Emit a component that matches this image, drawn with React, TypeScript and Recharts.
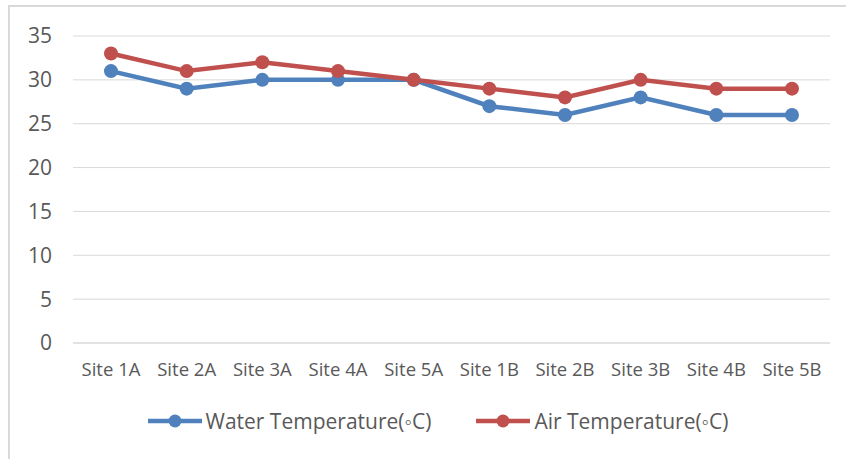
import React from "react";
import { LineChart, Line, XAxis, YAxis, CartesianGrid, Legend } from "recharts";

const sites = ["Site 1A", "Site 2A", "Site 3A", "Site 4A", "Site 5A", "Site 1B", "Site 2B", "Site 3B", "Site 4B", "Site 5B"];
const waterTemp = [31, 29, 30, 30, 30, 27, 26, 28, 26, 26];
const airTemp = [33, 31, 32, 31, 30, 29, 28, 30, 29, 29];
const yTicks = [0, 5, 10, 15, 20, 25, 30, 35];

const WATER = "Water Temperature(\u25E6C)";
const AIR = "Air Temperature(\u25E6C)";

const data = sites.map((s, i) => ({ site: s, water: waterTemp[i], air: airTemp[i] }));

const BLUE = "#4F81BD";
const RED = "#C0504D";
const TEXT = "#595959";
const FONT = "'Open Sans', 'Liberation Sans', sans-serif";

const LegendContent = () => {
  const items = [
    { label: WATER, color: BLUE },
    { label: AIR, color: RED },
  ];
  return (
    <div style={{ display: "flex", justifyContent: "center", alignItems: "center", gap: 44, paddingLeft: 29, fontFamily: FONT }}>
      {items.map((it) => (
        <div key={it.label} style={{ display: "flex", alignItems: "center" }}>
          <svg width={56} height={16} style={{ marginRight: 3 }}>
            <line x1={1} y1={8} x2={55} y2={8} stroke={it.color} strokeWidth={4.5} />
            <circle cx={28} cy={8} r={6.5} fill={it.color} />
          </svg>
          <span style={{ fontSize: 21, color: TEXT }}>{it.label}</span>
        </div>
      ))}
    </div>
  );
};

export default function App() {
  return (
    <div style={{ position: "absolute", left: 0, top: 0, width: 846, height: 459, overflow: "hidden", background: "#fff" }}>
      <div
        style={{
          position: "absolute",
          left: 8,
          top: 5,
          width: 900,
          height: 500,
          border: "2px solid #d9d9d9",
          boxSizing: "border-box",
        }}
      />
      <div style={{ position: "absolute", left: 0, top: 0 }}>
        <LineChart width={846} height={459} data={data} margin={{ top: 36, right: 16, bottom: 0, left: 0 }}>
          <CartesianGrid vertical={false} stroke="#d9d9d9" strokeWidth={1} />
          <XAxis
            dataKey="site"
            axisLine={{ stroke: "#d9d9d9" }}
            tickLine={false}
            tickMargin={14}
            height={88}
            interval={0}
            padding={{ left: 38, right: 38 }}
            tick={{ fill: TEXT, fontSize: 18.5, fontFamily: FONT }}
          />
          <YAxis
            domain={[0, 35]}
            ticks={yTicks}
            axisLine={false}
            tickLine={false}
            tickMargin={15}
            width={73}
            tick={{ fill: TEXT, fontSize: 21, fontFamily: FONT }}
          />
          <Legend
            verticalAlign="bottom"
            content={<LegendContent />}
            wrapperStyle={{ position: "absolute", top: 407, left: 0, width: 846 }}
          />
          <Line
            type="linear"
            dataKey="water"
            name={WATER}
            stroke={BLUE}
            strokeWidth={4.5}
            dot={{ r: 7, fill: BLUE, stroke: BLUE, strokeWidth: 0 }}
            isAnimationActive={false}
          />
          <Line
            type="linear"
            dataKey="air"
            name={AIR}
            stroke={RED}
            strokeWidth={4.5}
            dot={{ r: 7, fill: RED, stroke: RED, strokeWidth: 0 }}
            isAnimationActive={false}
          />
        </LineChart>
      </div>
    </div>
  );
}
